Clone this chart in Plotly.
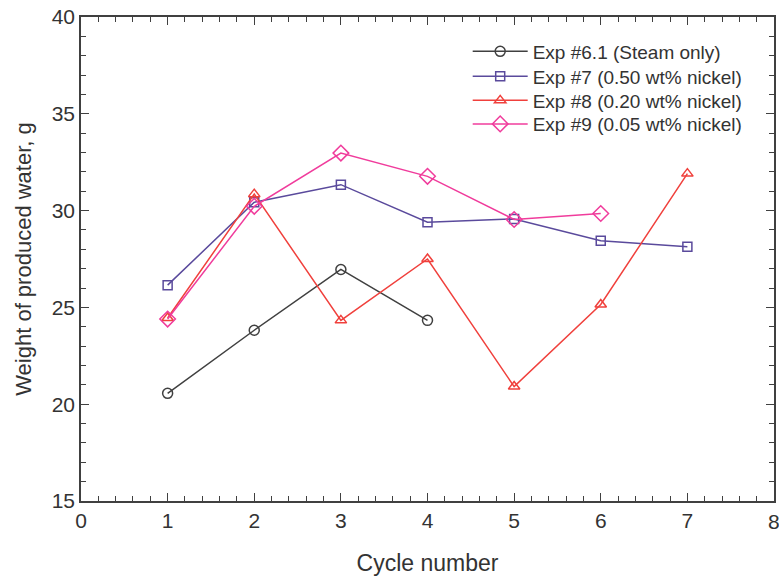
import plotly.graph_objects as go

cycles_61 = [1, 2, 3, 4]
water_61 = [20.56, 23.82, 26.96, 24.33]
cycles_7 = [1, 2, 3, 4, 5, 6, 7]
water_7 = [26.15, 30.43, 31.34, 29.40, 29.57, 28.44, 28.13]
cycles_8 = [1, 2, 3, 4, 5, 6, 7]
water_8 = [24.45, 30.85, 24.33, 27.50, 20.91, 25.15, 31.91]
cycles_9 = [1, 2, 3, 4, 5, 6]
water_9 = [24.40, 30.22, 32.97, 31.77, 29.54, 29.85]
x_ticks = [0, 1, 2, 3, 4, 5, 6, 7]
x_last_tick = 8

names = ["Exp #6.1 (Steam only)", "Exp #7 (0.50 wt% nickel)",
         "Exp #8 (0.20 wt% nickel)", "Exp #9 (0.05 wt% nickel)"]
colors = ["#404040", "#5a4a9c", "#f0403c", "#f03c9c"]
symbols = ["circle-open", "square-open", "triangle-up-open", "diamond-open"]
sizes = [10, 9, 10, 12]
legend_ids = ["legend", "legend2", "legend3", "legend4"]
legend_y = [0.968, 0.9163, 0.8667, 0.8181]

FONT = "Liberation Sans, Arial"

fig = go.Figure()
for xs, ys, n, c, s, sz, lg in zip([cycles_61, cycles_7, cycles_8, cycles_9],
                                   [water_61, water_7, water_8, water_9],
                                   names, colors, symbols, sizes, legend_ids):
    fig.add_trace(go.Scatter(x=xs, y=ys, name=n, mode="lines+markers", legend=lg,
                             showlegend=True,
                             line=dict(color=c, width=1.5),
                             marker=dict(symbol=s, size=sz, color=c,
                                         line=dict(color=c, width=1.5))))

axis_common = dict(showgrid=False, zeroline=False, showline=True, linecolor="#404040",
                   linewidth=1.5, mirror="ticks", ticks="inside", ticklen=8,
                   tickwidth=1, tickcolor="#404040",
                   tickfont=dict(family=FONT, size=21, color="#333"))

fig.update_xaxes(range=[0, 8], tickvals=x_ticks, ticktext=[str(v) for v in x_ticks],
                 minor=dict(dtick=0.2, tick0=0, ticks="inside", ticklen=5, tickcolor="#404040"),
                 title=dict(text="Cycle number", font=dict(family=FONT, size=23, color="#333"), standoff=24),
                 **axis_common)
fig.update_yaxes(range=[15, 40], dtick=5, tick0=15,
                 minor=dict(dtick=1, ticks="inside", ticklen=5, tickcolor="#404040"),
                 title=dict(text="Weight of produced water, g", font=dict(family=FONT, size=22, color="#333"), standoff=14),
                 **axis_common)

# last x tick label (sits on the right edge of the plot)
fig.add_annotation(x=x_last_tick, y=0, xref="x", yref="paper", yanchor="middle",
                   yshift=-20, text=str(x_last_tick), showarrow=False,
                   font=dict(family=FONT, size=21, color="#333"))

layout_legends = {}
for lg, ly in zip(legend_ids, legend_y):
    layout_legends[lg] = dict(x=0.558, y=ly, xanchor="left", yanchor="top",
                              font=dict(family=FONT, size=19, color="#333"),
                              bgcolor="rgba(0,0,0,0)", itemwidth=55, visible=True)

fig.update_layout(width=779, height=582, margin=dict(l=81, r=3, t=17, b=81),
                  plot_bgcolor="white", paper_bgcolor="white", showlegend=True,
                  **layout_legends)

fig.write_html("out.html")
